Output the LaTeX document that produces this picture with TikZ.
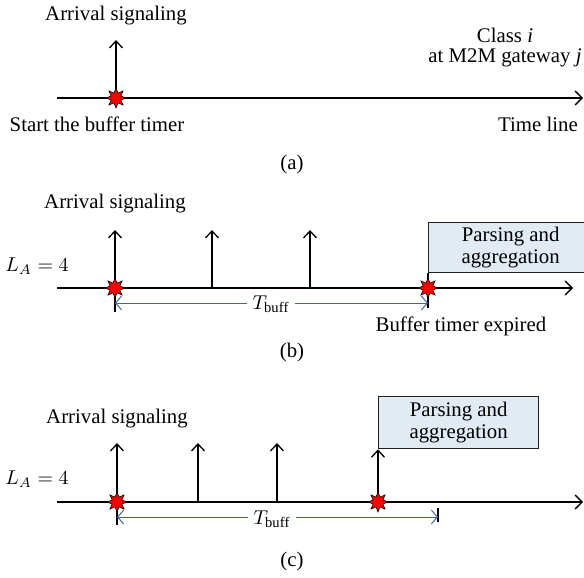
\documentclass[tikz,border=0pt]{standalone}
\usepackage{fontspec}
\setmainfont{Liberation Serif}
\usetikzlibrary{arrows.meta,shapes.geometric}
\definecolor{tlblue}{RGB}{68,100,178}
\definecolor{boxfill}{RGB}{226,234,244}
\definecolor{boxline}{RGB}{30,30,30}
\tikzset{
  x=0.5pt,y=-0.5pt,
  every node/.style={font=\fontsize{10.4}{11}\selectfont, inner sep=0pt},
  timeline/.style={line width=0.65pt, -{Straight Barb[length=3.5pt,width=7pt,line width=0.65pt]}},
  arrival/.style={line width=0.65pt, -{Straight Barb[length=3.5pt,width=6.5pt,line width=0.65pt]}},
  tickline/.style={line width=0.65pt},
  bufarrow/.style={tlblue, line width=0.5pt, {Straight Barb[length=3pt,width=7pt,line width=0.5pt]}-{Straight Barb[length=3pt,width=7pt,line width=0.5pt]}},
  burst/.style={star, star points=8, star point ratio=1.9, minimum size=10pt, fill=red, draw=black, line width=0.3pt, inner sep=0pt},
  procbox/.style={draw=boxline, fill=boxfill, line width=0.65pt, align=center, minimum height=25pt},
  lbl/.style={align=center}
}
\begin{document}
\begin{tikzpicture}
\useasboundingbox (0,0) rectangle (584,578);
% ---------- (a) ----------
\coordinate (a0) at (57,98);
\coordinate (a1) at (583,98);
\draw[timeline] (a0) -- (a1);
\coordinate (aa) at (116,98);
\coordinate (aat) at (116,40);
\draw[arrival] (aa) -- (aat);
\node[burst] (as) at (aa) {};
\node[lbl] (aarr) at (116,16) {Arrival signaling};
\node[lbl] (aclass) at (505,48) {Class \textit{i}\\[-1pt]at M2M gateway \textit{j}};
\node[lbl] (astart) at (97,124) {Start the buffer timer};
\node[lbl] (atime) at (538,124) {Time line};
\node[lbl] (acap) at (292,164) {(a)};
% ---------- (b) ----------
\coordinate (b0) at (57,288);
\coordinate (b1) at (573,288);
\draw[timeline] (b0) -- (b1);
\node[lbl] (barr) at (115,204) {Arrival signaling};
\node[lbl] (bla) at (37,266) {$L_A = 4$};
\foreach \x/\n in {115/1,212/2,310/3}{
  \coordinate (bb\n) at (\x,288);
  \coordinate (bt\n) at (\x,230);
  \draw[arrival] (bb\n) -- (bt\n);
}
\node[procbox, minimum width=82pt, anchor=north west] (bbox) at (428,222) {Parsing and\\aggregation};
\coordinate (bk1) at (115,312);
\draw[tickline] (bb1) -- (bk1);
\coordinate (be) at (428,288);
\coordinate (bk2) at (428,308);
\draw[tickline] (bbox.south west) -- (bk2);
\node[burst] (bs1) at (bb1) {};
\node[burst] (bs2) at (be) {};
\coordinate (bl) at (115,303);
\coordinate (br) at (428,303);
\draw[bufarrow] (bl) -- (br);
\node[fill=white, inner xsep=3pt, inner ysep=1pt] (bt) at (271,304) {$T_{\mathrm{buff}}$};
\node[lbl] (bexp) at (461,326) {Buffer timer expired};
\node[lbl] (bcap) at (292,352) {(b)};
% ---------- (c) ----------
\coordinate (c0) at (57,502);
\coordinate (c1) at (583,502);
\draw[timeline] (c0) -- (c1);
\node[lbl] (carr) at (117,419) {Arrival signaling};
\node[lbl] (cla) at (37,479) {$L_A = 4$};
\foreach \x/\n in {117/1,198/2,277/3}{
  \coordinate (cb\n) at (\x,502);
  \coordinate (ct\n) at (\x,443);
  \draw[arrival] (cb\n) -- (ct\n);
}
\node[procbox, minimum width=80pt, minimum height=26pt, anchor=north west] (cbox) at (378,396) {Parsing and\\aggregation};
\coordinate (ce) at (378,502);
\draw[arrival] (ce) -- (cbox.south west);
\coordinate (ck1) at (117,525);
\draw[tickline] (cb1) -- (ck1);
\coordinate (ck2a) at (438,508);
\coordinate (ck2b) at (438,522);
\draw[tickline] (ck2a) -- (ck2b);
\node[burst] (cs1) at (cb1) {};
\node[burst] (cs2) at (ce) {};
\coordinate (cl) at (117,517);
\coordinate (cr) at (438,517);
\draw[bufarrow] (cl) -- (cr);
\node[fill=white, inner xsep=3pt, inner ysep=1pt] (ct) at (272,519) {$T_{\mathrm{buff}}$};
\node[lbl] (ccap) at (292,561) {(c)};
\end{tikzpicture}
\end{document}
